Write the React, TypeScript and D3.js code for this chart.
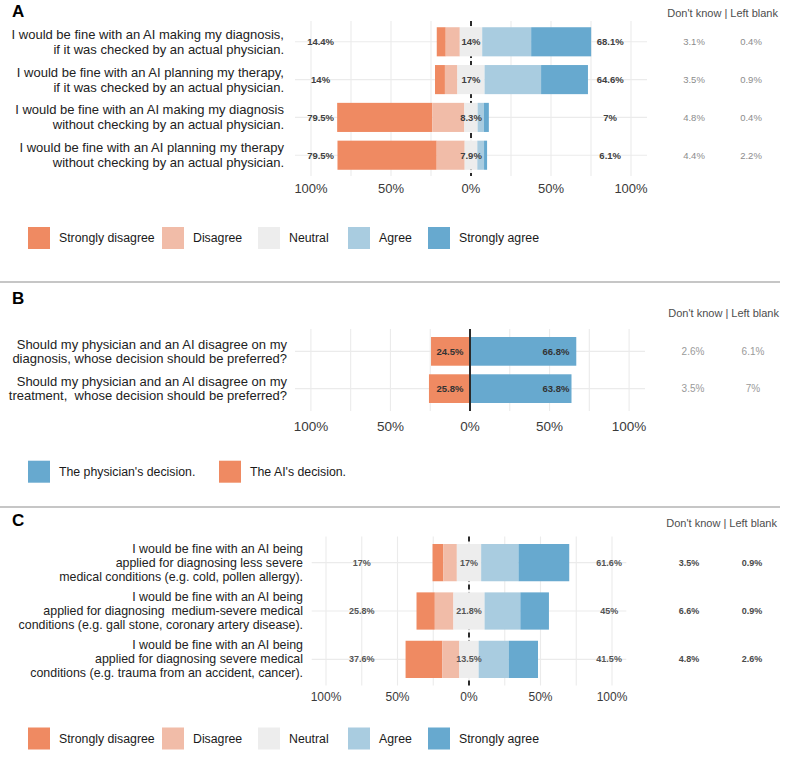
import React from "react";
import * as d3 from "d3";

const FONT = "'Liberation Sans', Arial, Helvetica, sans-serif";

// likert levels and colours (shared by A and C)
const likertLevels = ["Strongly disagree", "Disagree", "Neutral", "Agree", "Strongly agree"];
const likertColors = ["#EF8A62", "#F1BCA8", "#EDEDED", "#A9CCE0", "#67A9CF"];

// panel A
const aItems = [
  "I would be fine with an AI making my diagnosis,\nif it was checked by an actual physician.",
  "I would be fine with an AI planning my therapy,\nif it was checked by an actual physician.",
  "I would be fine with an AI making my diagnosis\nwithout checking by an actual physician.",
  "I would be fine with an AI planning my therapy\nwithout checking by an actual physician.",
];
const aStronglyDisagree = [5.6, 6.2, 59.5, 62.0];
const aDisagree = [8.8, 7.8, 20.0, 17.5];
const aNeutral = [14, 17, 8.3, 7.9];
const aAgree = [30.6, 35.3, 3.9, 4.2];
const aStronglyAgree = [37.5, 29.3, 3.1, 1.9];
const aDontKnow = [3.1, 3.5, 4.8, 4.4];
const aLeftBlank = [0.4, 0.9, 0.4, 2.2];

// panel B
const bItems = [
  "Should my physician and an AI disagree on my\ndiagnosis, whose decision should be preferred?",
  "Should my physician and an AI disagree on my\ntreatment,  whose decision should be preferred?",
];
const bLevels = ["The physician's decision.", "The AI's decision."];
const bColors = ["#67A9CF", "#EF8A62"];
const bPhysician = [66.8, 63.8];
const bAI = [24.5, 25.8];
const bDontKnow = [2.6, 3.5];
const bLeftBlank = [6.1, 7];

// panel C
const cItems = [
  "I would be fine with an AI being\napplied for diagnosing less severe\nmedical conditions (e.g. cold, pollen allergy).",
  "I would be fine with an AI being\napplied for diagnosing  medium-severe medical\nconditions (e.g. gall stone, coronary artery disease).",
  "I would be fine with an AI being\napplied for diagnosing severe medical\nconditions (e.g. trauma from an accident, cancer).",
];
const cStronglyDisagree = [7.6, 12.8, 25.6];
const cDisagree = [9.4, 13.0, 12.0];
const cNeutral = [17, 21.8, 13.5];
const cAgree = [26.1, 25.0, 21.0];
const cStronglyAgree = [35.5, 20.0, 20.5];
const cDontKnow = [3.5, 6.6, 4.8];
const cLeftBlank = [0.9, 0.9, 2.6];

const xTicks = [-100, -50, 0, 50, 100];
const xGrid = [-100, -75, -50, -25, 0, 25, 50, 75, 100];
const fmt = (v: number) => `${+v.toFixed(1)}%`;

type Seg = { value: number; color: string };
type Row = { label: string; segs: Seg[]; leftTotal: number; low?: number; mid?: number; high?: number; dk: number; lb: number };

function likertRows(items, sd, d, n, a, sa, dk, lb): Row[] {
  return items.map((label, i) => ({
    label,
    segs: [sd[i], d[i], n[i], a[i], sa[i]].map((v, j) => ({ value: v, color: likertColors[j] })),
    leftTotal: sd[i] + d[i] + n[i] / 2,
    low: sd[i] + d[i],
    mid: n[i],
    high: a[i] + sa[i],
    dk: dk[i],
    lb: lb[i],
  }));
}

function Panel(props) {
  const { cfg, rows } = props;
  const x = d3.scaleLinear().domain([-110, 110]).range(cfg.xRange);
  const y = d3
    .scalePoint<number>()
    .domain(rows.map((_, i) => i))
    .range(cfg.yRange)
    .padding(cfg.padding);
  const barH = y.step() * 0.77;

  const centerLine = (
    <line
      x1={x(0)}
      x2={x(0)}
      y1={cfg.yRange[0]}
      y2={cfg.yRange[1]}
      stroke="#2b2b2b"
      strokeWidth={2}
      strokeDasharray={cfg.dashed ? "5,3" : undefined}
    />
  );

  return (
    <g>
      {/* grid */}
      {xGrid.map((t) => (
        <line key={t} x1={x(t)} x2={x(t)} y1={cfg.yRange[0]} y2={cfg.yRange[1]} stroke="#ebebeb" strokeWidth={1.1} />
      ))}
      {rows.map((_, i) => (
        <line key={i} x1={cfg.xRange[0]} x2={cfg.xRange[1]} y1={y(i)} y2={y(i)} stroke="#ebebeb" strokeWidth={1.1} />
      ))}
      {cfg.dashed && centerLine}

      {/* bars */}
      {rows.map((r, i) => {
        let acc = -r.leftTotal;
        return (
          <g key={i}>
            {r.segs.map((s, j) => {
              const x0 = acc;
              acc += s.value;
              return (
                <rect key={j} x={x(x0)} y={y(i) - barH / 2} width={x(acc) - x(x0)} height={barH} fill={s.color} />
              );
            })}
          </g>
        );
      })}
      {!cfg.dashed && centerLine}

      {/* category labels */}
      {rows.map((r, i) => {
        const lines = r.label.split("\n");
        return (
          <text
            key={i}
            textAnchor="end"
            fontSize={cfg.catFont}
            fill="#222"
            style={{ whiteSpace: "pre" }}
          >
            {lines.map((ln, k) => (
              <tspan key={k} x={cfg.catRight} y={y(i) + (k - (lines.length - 1) / 2) * cfg.catLH} dominantBaseline="central">
                {ln}
              </tspan>
            ))}
          </text>
        );
      })}

      {/* value labels */}
      {rows.map((r, i) => (
        <g key={i} fontSize={cfg.valFont} fontWeight="bold" fill={cfg.valColor} textAnchor="middle" fontFamily={cfg.valFamily}>
          {r.low != null && (
            <text x={x(cfg.lowAt)} y={y(i)} dominantBaseline="central">{fmt(r.low)}</text>
          )}
          {r.mid != null && (
            <text x={x(0)} y={y(i)} dominantBaseline="central">{fmt(r.mid)}</text>
          )}
          {r.high != null && (
            <text x={x(cfg.highAt)} y={y(i)} dominantBaseline="central">{fmt(r.high)}</text>
          )}
        </g>
      ))}

      {/* don't know | left blank */}
      <text x={cfg.headRight} y={cfg.headY} textAnchor="end" fontSize={11} fill="#4d4d4d" dominantBaseline="central">
        Don't know | Left blank
      </text>
      {rows.map((r, i) => (
        <g key={i} fontSize={cfg.extraFont} fill={cfg.extraColor} fontWeight={cfg.extraWeight} textAnchor="middle" fontFamily={cfg.extraFamily}>
          <text x={cfg.extraX[0]} y={y(i)} dominantBaseline="central">{fmt(r.dk)}</text>
          <text x={cfg.extraX[1]} y={y(i)} dominantBaseline="central">{fmt(r.lb)}</text>
        </g>
      ))}

      {/* x axis */}
      {xTicks.map((t) => (
        <text key={t} x={x(t)} y={cfg.tickY} textAnchor="middle" dominantBaseline="central" fontSize={cfg.tickFont} fill="#3a3a3a">
          {`${Math.abs(t)}%`}
        </text>
      ))}
    </g>
  );
}

function Legend({ y, items, colors, xs }) {
  return (
    <g>
      {items.map((it, i) => (
        <g key={it} transform={`translate(${xs[i]},${y})`}>
          <rect x={0} y={-11} width={22} height={22} fill={colors[i]} />
          <text x={31} y={0} dominantBaseline="central" fontSize={12.3} fill="#1a1a1a">
            {it}
          </text>
        </g>
      ))}
    </g>
  );
}

export default function App() {
  const rowsA = likertRows(aItems, aStronglyDisagree, aDisagree, aNeutral, aAgree, aStronglyAgree, aDontKnow, aLeftBlank);
  const rowsC = likertRows(cItems, cStronglyDisagree, cDisagree, cNeutral, cAgree, cStronglyAgree, cDontKnow, cLeftBlank);
  const rowsB: Row[] = bItems.map((label, i) => ({
    label,
    segs: [
      { value: bAI[i], color: bColors[1] },
      { value: bPhysician[i], color: bColors[0] },
    ],
    leftTotal: bAI[i],
    low: bAI[i],
    high: bPhysician[i],
    dk: bDontKnow[i],
    lb: bLeftBlank[i],
  }));

  const cfgA = {
    xRange: [295, 647], yRange: [21, 176], padding: 0.55, dashed: true,
    catRight: 284, catFont: 13, catLH: 15, tickY: 188, tickFont: 13,
    lowAt: -94, highAt: 87, valFont: 9.5, valColor: "#404040",
    headRight: 778, headY: 13, extraX: [694, 751], extraFont: 9.5, extraColor: "#8c8c8c", extraWeight: "normal",
  };
  const cfgB = {
    xRange: [295, 645], yRange: [329, 411], padding: 0.6, dashed: false,
    catRight: 287, catFont: 13, catLH: 14.5, tickY: 426, tickFont: 13.5,
    lowAt: -12.6, highAt: 54, valFont: 9.5, valColor: "#333",
    valFamily: "'Liberation Sans Narrow', 'Liberation Sans', Arial, sans-serif",
    headRight: 779, headY: 313, extraX: [693, 753], extraFont: 10, extraColor: "#9a9a9a", extraWeight: "normal",
    extraFamily: "'Liberation Sans Narrow', 'Liberation Sans', Arial, sans-serif",
  };
  const cfgC = {
    xRange: [311.7, 626.3], yRange: [536.5, 685.5], padding: 0.54, dashed: true,
    catRight: 303, catFont: 12.4, catLH: 14, tickY: 697, tickFont: 12,
    lowAt: -75, highAt: 98, valFont: 9, valColor: "#555",
    headRight: 777, headY: 523, extraX: [689, 752], extraFont: 9, extraColor: "#4a4a4a", extraWeight: "bold",
  };

  const legendXs = [28, 162, 258, 348, 428];

  return (
    <svg
      width={800}
      height={759}
      style={{ position: "absolute", left: 0, top: 0, background: "#fff" }}
      fontFamily={FONT}
    >
      <rect width={800} height={759} fill="#fff" />

      <text x={12} y={17} fontSize={17} fontWeight="bold" fill="#000">A</text>
      <Panel cfg={cfgA} rows={rowsA} />
      <Legend y={238} items={likertLevels} colors={likertColors} xs={legendXs} />

      <line x1={0} x2={780} y1={282} y2={282} stroke="#b3b3b3" strokeWidth={1.5} />

      <text x={12} y={304} fontSize={17} fontWeight="bold" fill="#000">B</text>
      <Panel cfg={cfgB} rows={rowsB} />
      <Legend y={471.7} items={bLevels} colors={bColors} xs={[28, 219]} />

      <line x1={0} x2={780} y1={507} y2={507} stroke="#b3b3b3" strokeWidth={1.5} />

      <text x={12} y={526} fontSize={17} fontWeight="bold" fill="#000">C</text>
      <Panel cfg={cfgC} rows={rowsC} />
      <Legend y={738.5} items={likertLevels} colors={likertColors} xs={legendXs} />
    </svg>
  );
}
